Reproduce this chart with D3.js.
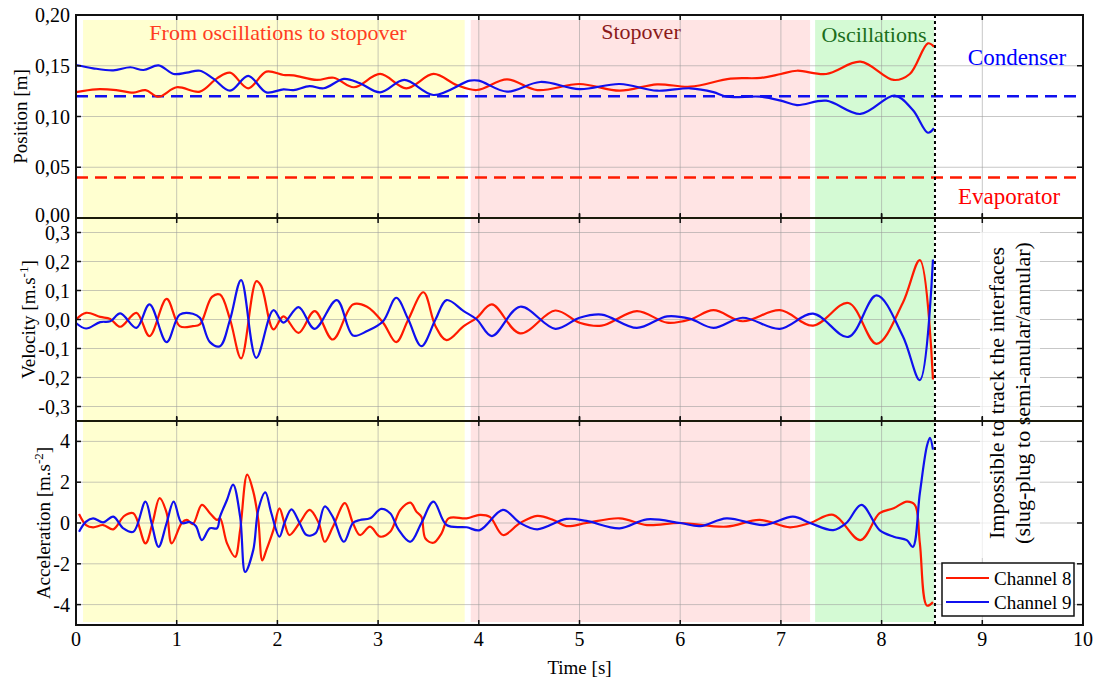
<!DOCTYPE html>
<meta charset="utf-8">
<style>
    body { margin: 0; background: #fff; }
    svg text { font-family: "Liberation Serif", "Times New Roman", serif; fill: #000; }
    .grid line { stroke: #999; stroke-opacity: 0.55; stroke-width: 1; }
</style>
<svg width="1094" height="684"></svg>
<script src="https://cdn.jsdelivr.net/npm/d3@7/dist/d3.min.js"></script>
<script>
// ---- data ----
var xTicks = [0, 1, 2, 3, 4, 5, 6, 7, 8, 9, 10];
var posTicks = [0, 0.05, 0.10, 0.15, 0.20];
var velTicks = [-0.3, -0.2, -0.1, 0, 0.1, 0.2, 0.3];
var accTicks = [-4, -2, 0, 2, 4];

var phaseNames = ["From oscillations to stopover", "Stopover", "Oscillations"];
var phaseStart = [0.07, 3.92, 7.34];
var phaseEnd = [3.86, 7.29, 8.52];

var condenserLevel = 0.12;
var evaporatorLevel = 0.04;
var trackLimit = 8.53;

// position [m] (time [s], value)
var posCh8 = [[0.0,.124],[0.2,.1268],[0.4,.126],[0.57,.1235],[0.69,.126],[0.82,.1195],[1.0,.1288],[1.23,.1245],
    [1.4,.1376],[1.53,.1432],[1.71,.1278],[1.89,.1442],[2.06,.1409],[2.16,.1405],[2.39,.136],[2.56,.1382],
    [2.76,.1288],[3.02,.1419],[3.28,.1278],[3.55,.1419],[3.78,.131],[3.98,.1261],[4.28,.1366],[4.58,.126],
    [5.0,.132],[5.4,.1254],[5.77,.1317],[6.1,.1294],[6.5,.1373],[6.8,.138],[7.0,.1419],[7.16,.1451],
    [7.45,.1419],[7.79,.154],[8.12,.136],[8.28,.1419],[8.46,.1721],[8.52,.1688]];
var posCh9 = [[0,.1507],[0.17,.1475],[0.37,.1455],[0.54,.1485],[0.67,.1458],[0.82,.1504],[0.97,.1419],[1.1,.1432],
    [1.23,.1451],[1.36,.1376],[1.53,.1254],[1.71,.140],[1.89,.1238],[2.06,.1268],[2.16,.126],[2.32,.130],
    [2.46,.1278],[2.66,.137],[2.82,.1327],[3.02,.1238],[3.26,.136],[3.55,.1212],[3.91,.1353],[4.0,.1353],
    [4.28,.1245],[4.61,.134],[5.0,.127],[5.4,.132],[5.77,.1254],[6.1,.1278],[6.33,.124],[6.46,.1195],
    [6.8,.1195],[7.0,.1156],[7.16,.1113],[7.45,.1156],[7.79,.1025],[8.13,.1205],[8.31,.1064],[8.46,.084],[8.52,.0884]];

// velocity [m/s]
var velCh8 = [[0.0,0],[0.1,.023],[0.24,.009],[0.34,.002],[0.44,-.025],[0.6,.023],[0.73,-.057],[0.9,.071],
    [1.03,-.023],[1.16,-.023],[1.23,-.017],[1.35,.078],[1.43,.086],[1.53,0],[1.64,-.134],[1.79,.132],
    [1.84,.115],[1.96,-.034],[2.06,.011],[2.21,-.046],[2.37,.029],[2.55,-.069],[2.75,.052],[2.89,.044],
    [3.05,-.011],[3.18,-.078],[3.3,0],[3.45,.094],[3.57,-.023],[3.68,-.071],[3.85,-.023],[3.98,.006],
    [4.13,.052],[4.41,-.048],[4.76,.031],[5.0,-.011],[5.22,-.021],[5.57,.029],[5.87,-.011],[6.1,0],
    [6.33,.032],[6.62,-.006],[6.99,.032],[7.32,-.021],[7.67,.057],[7.95,-.084],[8.21,.057],[8.38,.205],[8.51,-.207]];
var velCh9 = [[0.0,-.012],[0.1,-.031],[0.24,-.009],[0.34,-.006],[0.44,.021],[0.6,-.029],[0.73,.052],[0.9,-.078],
    [1.03,.017],[1.16,.02],[1.23,.006],[1.33,-.078],[1.43,-.092],[1.53,0],[1.64,.136],[1.79,-.132],
    [1.96,.032],[2.06,-.011],[2.21,.043],[2.37,-.032],[2.59,.067],[2.75,-.055],[2.89,-.04],[3.05,-.006],
    [3.18,.075],[3.3,0],[3.43,-.092],[3.57,0],[3.68,.067],[3.85,.029],[3.98,0],[4.13,-.057],[4.41,.044],
    [4.76,-.032],[5.0,.006],[5.22,.017],[5.57,-.029],[5.87,.011],[6.1,.002],[6.33,-.029],[6.62,.006],
    [6.99,-.032],[7.32,.02],[7.67,-.06],[7.95,.083],[8.21,-.057],[8.38,-.209],[8.51,.207]];

// acceleration [m/s2]
var accCh8 = [[0.03,.44],[0.1,-.1],[0.17,-.21],[0.27,-.1],[0.37,-.31],[0.48,.35],[0.57,.48],[0.69,-1.0],
    [0.76,0],[0.83,1.22],[0.9,.5],[0.95,-1.0],[1.05,0],[1.1,.15],[1.16,-.05],[1.25,.89],[1.33,.48],
    [1.4,.15],[1.43,.23],[1.5,-1.0],[1.58,-1.66],[1.63,-.35],[1.7,2.37],[1.76,1.55],[1.81,.15],
    [1.85,-1.83],[1.89,-1.33],[1.96,-.35],[2.02,.72],[2.07,0],[2.12,-.59],[2.22,0],[2.32,.64],[2.41,0],
    [2.47,-.92],[2.55,-.2],[2.67,.97],[2.75,0],[2.82,-.59],[2.92,-.18],[3.02,-.67],[3.12,-.43],[3.22,.64],
    [3.32,1.0],[3.38,.56],[3.43,.31],[3.47,-.76],[3.55,-.97],[3.63,-.51],[3.7,.23],[3.88,.23],[4.01,.4],
    [4.11,.3],[4.24,-.59],[4.41,0],[4.58,.35],[4.74,.15],[4.87,-.15],[5.07,0],[5.4,.23],[5.67,-.1],
    [6.0,0],[6.46,-.18],[6.79,.15],[7.09,-.21],[7.29,0],[7.52,.4],[7.79,-.84],[7.98,.48],[8.12,.72],
    [8.25,1.05],[8.33,.89],[8.38,-1.0],[8.45,-4.05],[8.51,-3.88]];
var accCh9 = [[0.03,-.43],[0.1,.07],[0.17,.23],[0.27,.03],[0.37,.31],[0.47,-.26],[0.57,-.43],[0.69,1.05],
    [0.75,0],[0.82,-1.17],[0.9,0],[0.97,1.05],[1.05,0],[1.13,.05],[1.19,-.15],[1.25,-.84],[1.33,-.26],
    [1.4,-.26],[1.43,.31],[1.5,1.14],[1.56,1.88],[1.63,.31],[1.68,-2.4],[1.76,-1.33],[1.81,.64],[1.88,1.5],
    [1.94,.48],[2.02,-.67],[2.07,0],[2.14,.67],[2.22,0],[2.29,-.59],[2.38,-.5],[2.47,.81],[2.55,.3],
    [2.66,-.92],[2.75,0],[2.82,.15],[2.92,.23],[3.03,.69],[3.12,.48],[3.2,-.3],[3.32,-.92],[3.43,0],
    [3.55,1.05],[3.68,-.1],[3.88,-.21],[4.01,-.35],[4.24,.64],[4.41,0],[4.58,-.31],[4.87,.2],[5.07,.1],
    [5.4,-.26],[5.67,.18],[6.0,0],[6.2,-.15],[6.46,.23],[6.83,-.1],[7.12,.31],[7.29,0],[7.52,-.35],
    [7.65,0],[7.8,.89],[7.98,-.35],[8.12,-.67],[8.25,-.84],[8.31,-1.17],[8.38,1.47],[8.45,3.77],
    [8.48,4.18],[8.51,3.6]];

var seriesNames = ["Channel 8", "Channel 9"];

(function () {
    var svg = d3.select("svg"),
        left = 76, right = 1083,
        red = "#ff1a00", blue = "#1010ee",
        serif = "'Liberation Serif', 'Times New Roman', serif",
        x = d3.scaleLinear().domain([0, 10]).range([left, right]);

    var fmtComma = function (f) {
        return function (d) { return f(d).replace(".", ",").replace("\u2212", "-"); };
    };

    var panels = [
        {top: 15, bottom: 218, domain: [0, 0.2], ticks: posTicks, fmt: fmtComma(d3.format(".2f")),
            series: [posCh8, posCh9], titleX: 27},
        {top: 218, bottom: 421, domain: [-0.35, 0.35], ticks: velTicks, fmt: fmtComma(d3.format(".1f")),
            series: [velCh8, velCh9], titleX: 35},
        {top: 421, bottom: 625, domain: [-5, 5], ticks: accTicks, fmt: fmtComma(d3.format("d")),
            series: [accCh8, accCh9], titleX: 50}
    ];
    panels.forEach(function (p) {
        p.y = d3.scaleLinear().domain(p.domain).range([p.bottom, p.top]);
    });

    // phase shading
    var phaseFill = ["#ffffd0", "#ffe4e4", "#d4fad4"];
    svg.append("g").selectAll("rect")
        .data(phaseNames)
        .enter().append("rect")
        .attr("x", function (d, i) { return x(phaseStart[i]); })
        .attr("width", function (d, i) { return x(phaseEnd[i]) - x(phaseStart[i]); })
        .attr("y", 20)
        .attr("height", 602)
        .attr("fill", function (d, i) { return phaseFill[i]; });

    // grid
    var grid = svg.append("g").attr("class", "grid");
    panels.forEach(function (p) {
        grid.selectAll(null).data(xTicks.slice(1, -1)).enter().append("line")
            .attr("x1", x).attr("x2", x).attr("y1", p.top).attr("y2", p.bottom);
        grid.selectAll(null).data(p.ticks).enter().append("line")
            .attr("x1", left).attr("x2", right)
            .attr("y1", function (d) { return p.y(d); }).attr("y2", function (d) { return p.y(d); });
    });

    // condenser / evaporator levels
    var py = panels[0].y;
    svg.append("line").attr("x1", left).attr("x2", right)
        .attr("y1", py(condenserLevel)).attr("y2", py(condenserLevel))
        .attr("stroke", blue).attr("stroke-width", 2.5).attr("stroke-dasharray", "12,7");
    svg.append("line").attr("x1", left).attr("x2", right)
        .attr("y1", py(evaporatorLevel)).attr("y2", py(evaporatorLevel))
        .attr("stroke", red).attr("stroke-width", 2.5).attr("stroke-dasharray", "12,7");

    // curves
    panels.forEach(function (p) {
        var line = d3.line()
            .x(function (d) { return x(d[0]); })
            .y(function (d) { return p.y(d[1]); })
            .curve(d3.curveCatmullRom.alpha(0.5));
        p.series.forEach(function (s, i) {
            svg.append("path")
                .attr("d", line(s))
                .attr("fill", "none")
                .attr("stroke", i === 0 ? red : blue)
                .attr("stroke-width", 2.2);
        });
    });

    // limit of interface tracking
    svg.append("line").attr("x1", x(trackLimit)).attr("x2", x(trackLimit))
        .attr("y1", 15).attr("y2", 625)
        .attr("stroke", "#000").attr("stroke-width", 2).attr("stroke-dasharray", "3,3");

    // annotation box
    svg.append("rect").attr("x", 980).attr("y", 232).attr("width", 60).attr("height", 326)
        .attr("fill", "#fff").attr("fill-opacity", 0.7);
    var note = svg.append("text")
        .attr("transform", "translate(1004,393) rotate(-90)")
        .attr("text-anchor", "middle")
        .style("font-family", serif)
        .style("font-size", "22px");
    note.append("tspan").attr("x", 0).attr("y", 0).text("Impossible to track the interfaces");
    note.append("tspan").attr("x", 0).attr("y", 26).text("(slug-plug to semi-anular/annular)");

    // frame, separators and ticks
    var axes = svg.append("g");
    panels.forEach(function (p, k) {
        axes.append("line").attr("x1", left).attr("x2", right).attr("y1", p.top).attr("y2", p.top)
            .attr("stroke", k === 0 ? "#111" : "#1a1a0a").attr("stroke-width", 2);
        axes.selectAll(null).data(p.ticks).enter().append("line")
            .attr("x1", left).attr("x2", left + 5)
            .attr("y1", function (d) { return p.y(d); }).attr("y2", function (d) { return p.y(d); })
            .attr("stroke", "#111").attr("stroke-width", 1.5);
        axes.selectAll(null).data(p.ticks).enter().append("line")
            .attr("x1", right - 6).attr("x2", right)
            .attr("y1", function (d) { return p.y(d); }).attr("y2", function (d) { return p.y(d); })
            .attr("stroke", "#111").attr("stroke-width", 1.5);
        axes.selectAll(null).data(xTicks).enter().append("line")
            .attr("x1", x).attr("x2", x)
            .attr("y1", p.top - (k === 0 ? 0 : 4)).attr("y2", p.top + 5)
            .attr("stroke", "#111").attr("stroke-width", 1.5);
        axes.selectAll(null).data(xTicks).enter().append("line")
            .attr("x1", x).attr("x2", x)
            .attr("y1", p.bottom - 5).attr("y2", p.bottom)
            .attr("stroke", "#111").attr("stroke-width", 1.5);

        svg.append("g").selectAll("text").data(p.ticks).enter().append("text")
            .attr("x", 70)
            .attr("y", function (d) { return p.y(d); })
            .attr("dy", function (d, i) { return (k === 0 && i === 0) ? "0.2em" : "0.35em"; })
            .attr("text-anchor", "end")
            .style("font-family", serif)
            .style("font-size", "20px")
            .text(p.fmt);
    });
    axes.append("line").attr("x1", left).attr("x2", right).attr("y1", 625).attr("y2", 625)
        .attr("stroke", "#111").attr("stroke-width", 2);
    axes.append("line").attr("x1", left).attr("x2", left).attr("y1", 14).attr("y2", 626)
        .attr("stroke", "#111").attr("stroke-width", 2);
    axes.append("line").attr("x1", right).attr("x2", right).attr("y1", 14).attr("y2", 626)
        .attr("stroke", "#111").attr("stroke-width", 2);

    // x tick labels and title
    svg.append("g").selectAll("text").data(xTicks).enter().append("text")
        .attr("x", x).attr("y", 646)
        .attr("text-anchor", "middle")
        .style("font-family", serif)
        .style("font-size", "20px")
        .text(function (d) { return d; });
    svg.append("text").attr("x", (left + right) / 2).attr("y", 674)
        .attr("text-anchor", "middle").style("font-family", serif).style("font-size", "19px").text("Time [s]");

    // y titles
    var titles = [["Position [m]", null], ["Velocity [m.s", "-1"], ["Acceleration [m.s", "-2"]];
    panels.forEach(function (p, k) {
        var t = svg.append("text")
            .attr("transform", "translate(" + p.titleX + "," + ((p.top + p.bottom) / 2) + ") rotate(-90)")
            .attr("text-anchor", "middle")
            .style("font-family", serif)
            .style("font-size", "19px");
        t.append("tspan").text(titles[k][0]);
        if (titles[k][1]) {
            t.append("tspan").attr("dy", -7).style("font-size", "13px").text(titles[k][1]);
            t.append("tspan").attr("dy", 7).text("]");
        }
    });

    // phase labels
    var phaseColor = ["#ff3d1f", "#8b1a1a", "#1b6e1b"];
    var phaseLabelX = [278, 641, 874];
    var phaseLabelY = [40, 39, 42];
    svg.append("g").selectAll("text").data(phaseNames).enter().append("text")
        .attr("x", function (d, i) { return phaseLabelX[i]; })
        .attr("y", function (d, i) { return phaseLabelY[i]; })
        .attr("text-anchor", "middle")
        .style("font-family", serif)
        .style("font-size", "22px")
        .style("fill", function (d, i) { return phaseColor[i]; })
        .text(function (d) { return d; });

    svg.append("text").attr("x", 1017).attr("y", 65).attr("text-anchor", "middle")
        .style("font-family", serif).style("font-size", "23px").style("fill", "#0000ff").text("Condenser");
    svg.append("text").attr("x", 1009).attr("y", 204).attr("text-anchor", "middle")
        .style("font-family", serif).style("font-size", "23px").style("fill", "#ff0000").text("Evaporator");

    // legend
    var legend = svg.append("g").attr("transform", "translate(942,563)");
    legend.append("rect").attr("width", 132).attr("height", 53)
        .attr("fill", "#fff").attr("stroke", "#111").attr("stroke-width", 1.5);
    seriesNames.forEach(function (name, i) {
        legend.append("line").attr("x1", 4).attr("x2", 47)
            .attr("y1", 15 + i * 24).attr("y2", 15 + i * 24)
            .attr("stroke", i === 0 ? red : blue).attr("stroke-width", 2);
        legend.append("text").attr("x", 52).attr("y", 15 + i * 24).attr("dy", "0.35em")
            .style("font-family", serif)
            .style("font-size", "19px").text(name);
    });
})();
</script>
